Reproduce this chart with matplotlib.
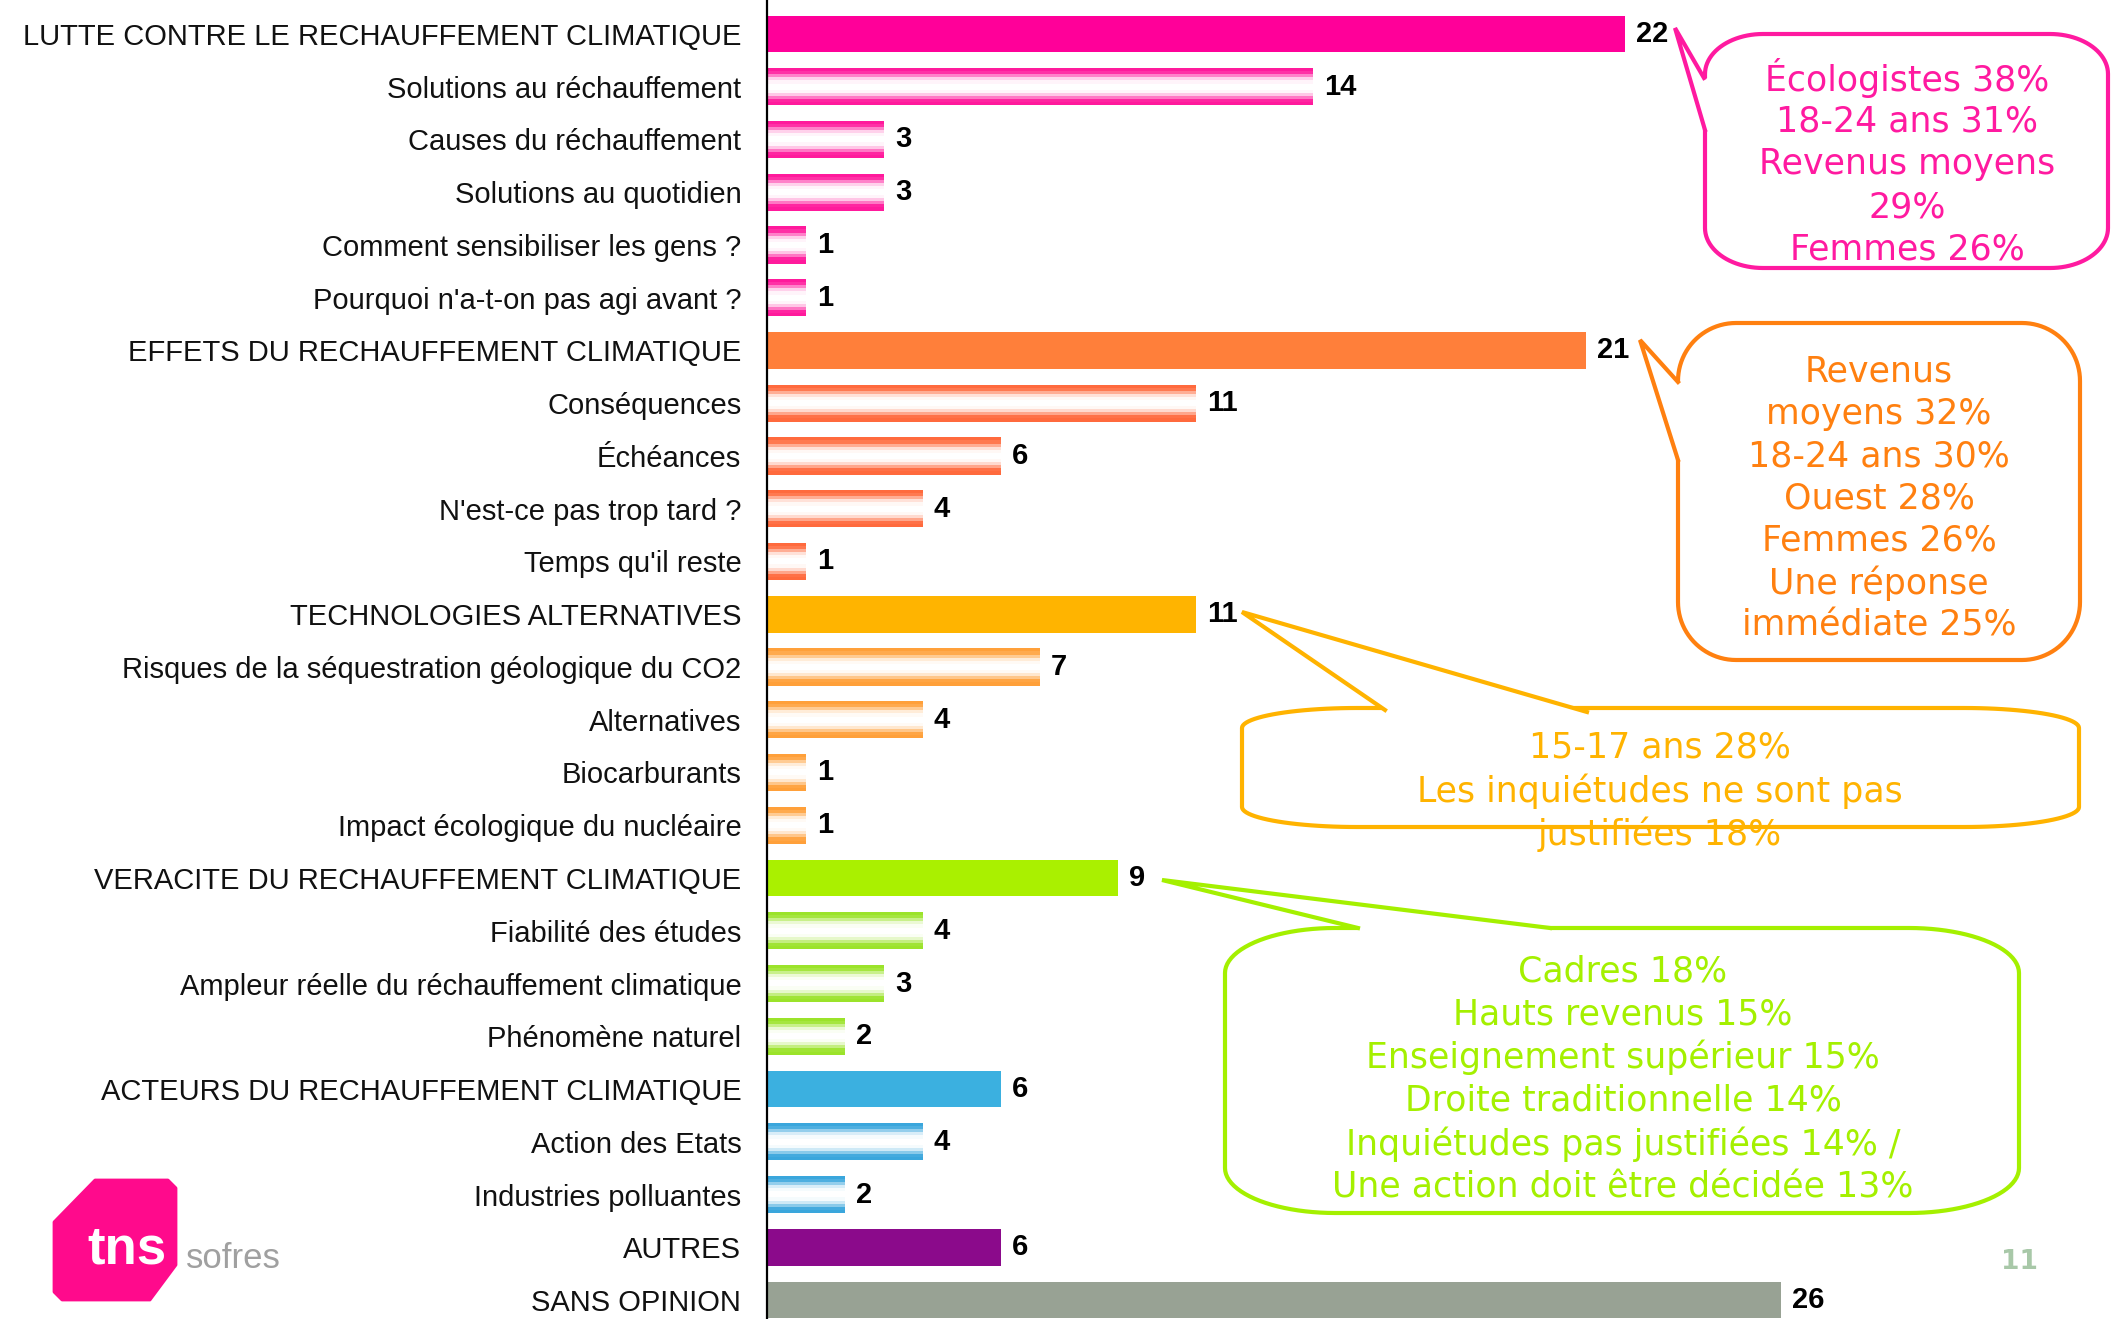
import numpy as np
import matplotlib.pyplot as plt
from matplotlib.patches import Polygon
from matplotlib.colors import to_rgb

# ----- data -----
labels = [
    "LUTTE CONTRE LE RECHAUFFEMENT CLIMATIQUE",
    "Solutions au réchauffement",
    "Causes du réchauffement",
    "Solutions au quotidien",
    "Comment sensibiliser les gens ?",
    "Pourquoi n'a-t-on pas agi avant ?",
    "EFFETS DU RECHAUFFEMENT CLIMATIQUE",
    "Conséquences",
    "Échéances",
    "N'est-ce pas trop tard ?",
    "Temps qu'il reste",
    "TECHNOLOGIES ALTERNATIVES",
    "Risques de la séquestration géologique du CO2",
    "Alternatives",
    "Biocarburants",
    "Impact écologique du nucléaire",
    "VERACITE DU RECHAUFFEMENT CLIMATIQUE",
    "Fiabilité des études",
    "Ampleur réelle du réchauffement climatique",
    "Phénomène naturel",
    "ACTEURS DU RECHAUFFEMENT CLIMATIQUE",
    "Action des Etats",
    "Industries polluantes",
    "AUTRES",
    "SANS OPINION",
]
values = [22, 14, 3, 3, 1, 1,
          21, 11, 6, 4, 1,
          11, 7, 4, 1, 1,
          9, 4, 3, 2,
          6, 4, 2,
          6, 26]
groups = ["lutte"] * 6 + ["effets"] * 5 + ["tech"] * 5 + ["vera"] * 4 + \
         ["acteurs"] * 3 + ["autres", "sans"]
headers = [0, 6, 11, 16, 20, 23, 24]

bubble_pink = ["Écologistes 38%", "18-24 ans 31%", "Revenus moyens", "29%", "Femmes 26%"]
bubble_orange = ["Revenus", "moyens 32%", "18-24 ans 30%", "Ouest 28%", "Femmes 26%",
                 "Une réponse", "immédiate 25%"]
bubble_yellow = ["15-17 ans 28%", "Les inquiétudes ne sont pas", "justifiées 18%"]
bubble_green = ["Cadres 18%", "Hauts revenus 15%", "Enseignement supérieur 15%",
                "Droite traditionnelle 14%", "Inquiétudes pas justifiées 14% /",
                "Une action doit être décidée 13%"]

# ----- styles -----
solid = {"lutte": "#ff0099", "effets": "#ff7f3a", "tech": "#ffb400", "vera": "#aaf000",
         "acteurs": "#3bb0e0", "autres": "#8b0a8b", "sans": "#98a294"}
light = {"lutte": "#ff1a9c", "effets": "#ff6a3d", "tech": "#ffa03a", "vera": "#9be32a",
         "acteurs": "#3aa6dc"}
profile = [1.0, 0.9, 0.55, 0.2, 0.05, 0.0, 0.0, 0.05, 0.25, 0.6, 0.95, 1.0]


def mix(c, w):
    c = np.array(to_rgb(c))
    return tuple(1 - w * (1 - c))


W, H = 2112, 1319
fig = plt.figure(figsize=(W / 100, H / 100), dpi=100)

x_axis = 767
ax = fig.add_axes([x_axis / W, 0, 1 - x_axis / W, 1])
step = 52.8
ax.set_ylim(24 + (H - 1300) / step, -34 / step)
ax.set_xlim(0, (W - x_axis) / 39.0)

h = 0.7
n = len(profile)
for i, (v, g) in enumerate(zip(values, groups)):
    if i in headers:
        ax.barh(i, v, height=h, color=solid[g], linewidth=0)
    else:
        for k, w in enumerate(profile):
            yk = i - h / 2 + (k + 0.5) * h / n
            ax.barh(yk, v, height=h / n * 1.08, color=mix(light[g], w), linewidth=0)
    ax.text(v + 0.28, i, str(v), va="center", ha="left", fontsize=21,
            fontweight="bold", family="Liberation Sans", color="black")

ax.set_yticks(range(len(labels)))
ax.set_yticklabels(labels, fontsize=21, family="Liberation Sans", color="#111111")
ax.tick_params(axis="y", length=0, pad=18.5)
ax.set_xticks([])
for s in ["top", "right", "bottom"]:
    ax.spines[s].set_visible(False)
ax.spines["left"].set_linewidth(1.6)

# ----- overlay in pixel coords for callouts and logo -----
ov = fig.add_axes([0, 0, 1, 1], zorder=5)
ov.set_xlim(0, W)
ov.set_ylim(H, 0)
ov.axis("off")
ov.patch.set_alpha(0)


def bubble(x0, y0, x1, y1, rx, ry, tip, b1, b2, inward, color, lines, cx, ytop, gap):
    pts = []
    corners = [((x1 - rx, y0 + ry), -90, 0), ((x1 - rx, y1 - ry), 0, 90),
               ((x0 + rx, y1 - ry), 90, 180), ((x0 + rx, y0 + ry), 180, 270)]
    for (ccx, ccy), a0, a1 in corners:
        t = np.radians(np.linspace(a0, a1, 24))
        pts += list(zip(ccx + rx * np.cos(t), ccy + ry * np.sin(t)))
    ov.add_patch(Polygon(pts, closed=True, facecolor="white", edgecolor=color, lw=3, zorder=2))
    dx, dy = inward
    ov.add_patch(Polygon([b1, tip, b2, (b2[0] + dx, b2[1] + dy), (b1[0] + dx, b1[1] + dy)],
                         closed=True, facecolor="white", edgecolor="none", zorder=3))
    ov.plot([b1[0], tip[0], b2[0]], [b1[1], tip[1], b2[1]], color=color, lw=3, zorder=4,
            solid_joinstyle="miter")
    for j, line in enumerate(lines):
        ov.text(cx, ytop + j * gap, line, ha="center", va="center", fontsize=25,
                color=color, family="DejaVu Sans", zorder=6)


bubble(1705, 34, 2108, 268, 58, 40, (1675, 28), (1704, 78), (1705, 130), (7, 0),
       "#ff1aa0", bubble_pink, 1907, 78, 43)
bubble(1678, 323, 2080, 660, 58, 58, (1640, 340), (1678, 382), (1678, 460), (7, 0),
       "#ff8010", bubble_orange, 1879, 372, 42.2)
bubble(1242, 708, 2079, 827, 115, 20, (1242, 612), (1385, 710), (1587, 712), (0, 7),
       "#ffb300", bubble_yellow, 1660, 748, 43)
bubble(1225, 928, 2019, 1213, 110, 45, (1162, 880), (1358, 928), (1550, 928), (0, 7),
       "#a4f000", bubble_green, 1623, 971, 43.2)

# logo
logo = [(95, 1180), (168, 1180), (176, 1188), (176, 1265), (150, 1300),
        (62, 1300), (54, 1292), (54, 1222)]
ov.add_patch(Polygon(logo, closed=True, facecolor="#ff0a8c", edgecolor="#ff0a8c",
                     lw=2, joinstyle="round"))
ov.text(87, 1264, "tns", ha="left", va="baseline", fontsize=38, fontweight="bold",
        color="white", family="Liberation Sans", zorder=6)
ov.text(186, 1268, "sofres", ha="left", va="baseline", fontsize=25,
        color="#a0a0a0", family="Liberation Sans", zorder=6)
ov.text(2019, 1262, "11", ha="center", va="center", fontsize=19, fontweight="bold",
        color="#a8c8a8", family="DejaVu Sans", zorder=6)

fig.savefig("out.png", dpi=100)
